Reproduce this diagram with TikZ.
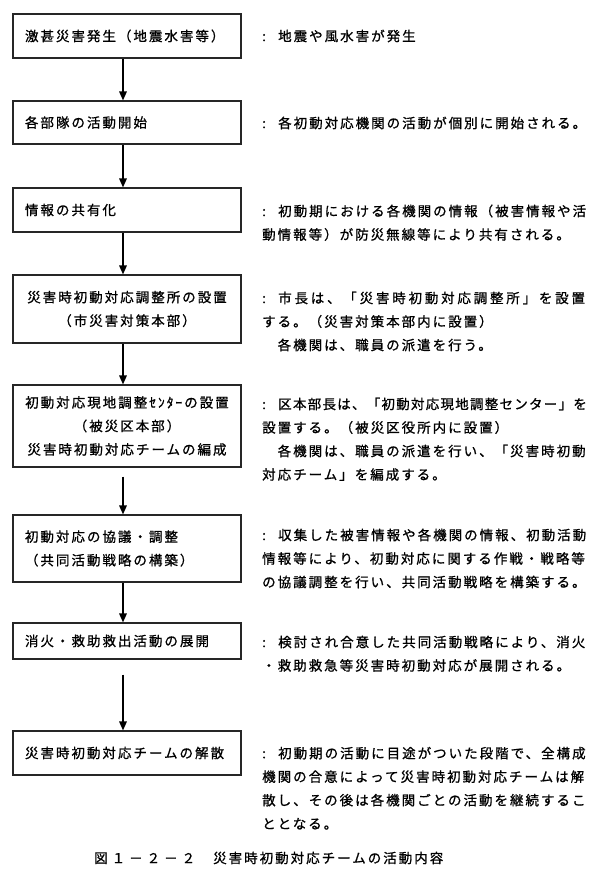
\documentclass[tikz,border=0pt]{standalone}
\usepackage{fontspec}
\setmainfont{Noto Sans CJK JP}[LetterSpace=14.8,FakeBold=0.9]
\usetikzlibrary{arrows.meta}
\newcommand\capcell[1]{\makebox[17.5pt][c]{#1}}
\newcommand\colcell{\makebox[16pt][l]{:}}
\newcommand\spreadtxt[2]{{\addfontfeature{LetterSpace=#1}#2}}
\begin{document}
\begin{tikzpicture}[x=1pt,y=-1pt,
  every node/.style={font=\fontsize{13.5}{23.5}\selectfont},
  box/.style={draw=black!85,line width=1.1pt,minimum width=228pt,text width=204pt,
    inner xsep=12pt,inner ysep=0pt,align=left},
  cbox/.style={box,align=center},
  desc/.style={anchor=west,inner sep=0pt,align=left},
  arr/.style={line width=1.6pt,-{Triangle[length=9pt,width=7.5pt]}}]
\useasboundingbox (0,0) rectangle (600,882);
% boxes
\node[box,minimum height=44pt] (b1) at (127,36) {激甚災害発生（地震水害等）};
\node[box,minimum height=43pt] (b2) at (127,122.5) {各部隊の活動開始};
\node[box,minimum height=44pt] (b3) at (127,210) {情報の共有化};
\node[cbox,minimum height=68pt] (b4) at (127,309) {災害時初動対応調整所の設置\\（市災害対策本部）};
\node[cbox,minimum height=82pt] (b5) at (127,426) {初動対応現地調整ｾﾝﾀｰの設置\\（被災区本部）\\災害時初動対応チームの編成};
\node[box,minimum height=67pt] (b6) at (127,548.5) {初動対応の協議・調整\\（共同活動戦略の構築）};
\node[box,minimum height=36pt] (b7) at (127,641) {消火・救助救出活動の展開};
\node[box,minimum height=44pt] (b8) at (127,753) {災害時初動対応チームの解散};
% arrows
\coordinate (ax) at (123,0);
\draw[arr] (b1.south -| ax) -- (b2.north -| ax);
\draw[arr] (b2.south -| ax) -- (b3.north -| ax);
\draw[arr] (b3.south -| ax) -- (b4.north -| ax);
\draw[arr] (b4.south -| ax) -- (b5.north -| ax);
\draw[arr,shorten <=9pt] (b5.south -| ax) -- (b6.north -| ax);
\draw[arr] (b6.south -| ax) -- (b7.north -| ax);
\draw[arr,shorten <=15pt] (b7.south -| ax) -- (b8.north -| ax);
% descriptions
\node[desc] (t1) at (262,36) {\colcell 地震や風水害が発生};
\node[desc] (t2) at (262,123) {\colcell 各初動対応機関の活動が個別に開始される。};
\node[desc] (t3) at (262,222.75) {\colcell 初動期における各機関の情報（被害情報や活\\動情報等）が防災無線等により共有される。};
\node[desc] (t4) at (262,321.5) {\colcell\spreadtxt{20.7}{市長は、「災害時初動対応調整所」を設置}\\する。（災害対策本部内に設置）\\　各機関は、職員の派遣を行う。};
\node[desc] (t5) at (262,439.25) {\colcell\spreadtxt{9.3}{区本部長は、「初動対応現地調整センター」を}\\設置する。（被災区役所内に設置）\\　各機関は、職員の派遣を行い、「災害時初動\\対応チーム」を編成する。};
\node[desc] (t6) at (262,558.5) {\colcell 収集した被害情報や各機関の情報、初動活動\\情報等により、初動対応に関する作戦・戦略等\\の協議調整を行い、共同活動戦略を構築する。};
\node[desc] (t7) at (262,653.75) {\colcell 検討され合意した共同活動戦略により、消火\\・救助救急等災害時初動対応が展開される。};
\node[desc] (t8) at (262,788.25) {\colcell 初動期の活動に目途がついた段階で、全構成\\機関の合意によって災害時初動対応チームは解\\散し、その後は各機関ごとの活動を継続するこ\\ととなる。};
% caption
\node[anchor=west,inner sep=0pt] (cap) at (92,858) {\capcell{図}\capcell{１}\capcell{－}\capcell{２}\capcell{－}\capcell{２}\hspace{16pt}災害時初動対応チームの活動内容};
\end{tikzpicture}
\end{document}
